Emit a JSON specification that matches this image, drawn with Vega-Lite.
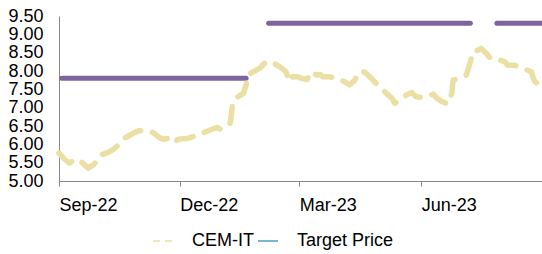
{
  "$schema": "https://vega.github.io/schema/vega-lite/v6.json",
  "width": 483,
  "height": 165,
  "autosize": {"type": "none"},
  "padding": {"left": 59, "top": 16, "right": 0, "bottom": 73},
  "background": "white",
  "config": {
    "view": {"stroke": null},
    "font": "Liberation Sans",
    "axis": {"labelFont": "Liberation Sans", "labelFontSize": 18, "labelColor": "#000000", "domainColor": "#888888", "tickColor": "#888888", "grid": false, "title": null, "labelOverlap": false, "labelFlush": false}
  },
  "datasets": {
    "price": [
      {"date": "2022-09-01", "value": 5.76, "series": "CEM-IT"},
      {"date": "2022-09-03", "value": 5.68, "series": "CEM-IT"},
      {"date": "2022-09-06", "value": 5.57, "series": "CEM-IT"},
      {"date": "2022-09-09", "value": 5.49, "series": "CEM-IT"},
      {"date": "2022-09-12", "value": 5.57, "series": "CEM-IT"},
      {"date": "2022-09-15", "value": 5.59, "series": "CEM-IT"},
      {"date": "2022-09-17", "value": 5.55, "series": "CEM-IT"},
      {"date": "2022-09-19", "value": 5.48, "series": "CEM-IT"},
      {"date": "2022-09-23", "value": 5.35, "series": "CEM-IT"},
      {"date": "2022-09-25", "value": 5.40, "series": "CEM-IT"},
      {"date": "2022-09-27", "value": 5.44, "series": "CEM-IT"},
      {"date": "2022-09-29", "value": 5.53, "series": "CEM-IT"},
      {"date": "2022-10-02", "value": 5.71, "series": "CEM-IT"},
      {"date": "2022-10-06", "value": 5.75, "series": "CEM-IT"},
      {"date": "2022-10-09", "value": 5.80, "series": "CEM-IT"},
      {"date": "2022-10-13", "value": 5.89, "series": "CEM-IT"},
      {"date": "2022-10-17", "value": 6.03, "series": "CEM-IT"},
      {"date": "2022-10-19", "value": 6.14, "series": "CEM-IT"},
      {"date": "2022-10-23", "value": 6.22, "series": "CEM-IT"},
      {"date": "2022-10-27", "value": 6.30, "series": "CEM-IT"},
      {"date": "2022-10-31", "value": 6.37, "series": "CEM-IT"},
      {"date": "2022-11-03", "value": 6.37, "series": "CEM-IT"},
      {"date": "2022-11-07", "value": 6.37, "series": "CEM-IT"},
      {"date": "2022-11-11", "value": 6.32, "series": "CEM-IT"},
      {"date": "2022-11-15", "value": 6.20, "series": "CEM-IT"},
      {"date": "2022-11-18", "value": 6.14, "series": "CEM-IT"},
      {"date": "2022-11-22", "value": 6.16, "series": "CEM-IT"},
      {"date": "2022-11-26", "value": 6.04, "series": "CEM-IT"},
      {"date": "2022-11-30", "value": 6.14, "series": "CEM-IT"},
      {"date": "2022-12-03", "value": 6.15, "series": "CEM-IT"},
      {"date": "2022-12-07", "value": 6.16, "series": "CEM-IT"},
      {"date": "2022-12-12", "value": 6.22, "series": "CEM-IT"},
      {"date": "2022-12-19", "value": 6.32, "series": "CEM-IT"},
      {"date": "2022-12-24", "value": 6.39, "series": "CEM-IT"},
      {"date": "2022-12-29", "value": 6.46, "series": "CEM-IT"},
      {"date": "2023-01-01", "value": 6.41, "series": "CEM-IT"},
      {"date": "2023-01-05", "value": 6.48, "series": "CEM-IT"},
      {"date": "2023-01-08", "value": 6.57, "series": "CEM-IT"},
      {"date": "2023-01-09", "value": 6.85, "series": "CEM-IT"},
      {"date": "2023-01-10", "value": 7.16, "series": "CEM-IT"},
      {"date": "2023-01-14", "value": 7.30, "series": "CEM-IT"},
      {"date": "2023-01-18", "value": 7.39, "series": "CEM-IT"},
      {"date": "2023-01-20", "value": 7.62, "series": "CEM-IT"},
      {"date": "2023-01-21", "value": 7.89, "series": "CEM-IT"},
      {"date": "2023-01-30", "value": 8.07, "series": "CEM-IT"},
      {"date": "2023-02-03", "value": 8.21, "series": "CEM-IT"},
      {"date": "2023-02-05", "value": 8.20, "series": "CEM-IT"},
      {"date": "2023-02-08", "value": 8.25, "series": "CEM-IT"},
      {"date": "2023-02-11", "value": 8.19, "series": "CEM-IT"},
      {"date": "2023-02-15", "value": 8.10, "series": "CEM-IT"},
      {"date": "2023-02-19", "value": 7.98, "series": "CEM-IT"},
      {"date": "2023-02-22", "value": 7.71, "series": "CEM-IT"},
      {"date": "2023-02-24", "value": 7.84, "series": "CEM-IT"},
      {"date": "2023-02-28", "value": 7.84, "series": "CEM-IT"},
      {"date": "2023-03-03", "value": 7.80, "series": "CEM-IT"},
      {"date": "2023-03-07", "value": 7.77, "series": "CEM-IT"},
      {"date": "2023-03-10", "value": 7.98, "series": "CEM-IT"},
      {"date": "2023-03-14", "value": 7.89, "series": "CEM-IT"},
      {"date": "2023-03-17", "value": 7.90, "series": "CEM-IT"},
      {"date": "2023-03-19", "value": 7.84, "series": "CEM-IT"},
      {"date": "2023-03-24", "value": 7.84, "series": "CEM-IT"},
      {"date": "2023-03-29", "value": 7.80, "series": "CEM-IT"},
      {"date": "2023-04-04", "value": 7.71, "series": "CEM-IT"},
      {"date": "2023-04-08", "value": 7.62, "series": "CEM-IT"},
      {"date": "2023-04-12", "value": 7.75, "series": "CEM-IT"},
      {"date": "2023-04-14", "value": 7.94, "series": "CEM-IT"},
      {"date": "2023-04-17", "value": 7.94, "series": "CEM-IT"},
      {"date": "2023-04-19", "value": 7.98, "series": "CEM-IT"},
      {"date": "2023-04-23", "value": 7.85, "series": "CEM-IT"},
      {"date": "2023-04-28", "value": 7.66, "series": "CEM-IT"},
      {"date": "2023-05-03", "value": 7.48, "series": "CEM-IT"},
      {"date": "2023-05-07", "value": 7.35, "series": "CEM-IT"},
      {"date": "2023-05-10", "value": 7.25, "series": "CEM-IT"},
      {"date": "2023-05-12", "value": 7.12, "series": "CEM-IT"},
      {"date": "2023-05-16", "value": 7.20, "series": "CEM-IT"},
      {"date": "2023-05-21", "value": 7.35, "series": "CEM-IT"},
      {"date": "2023-05-25", "value": 7.41, "series": "CEM-IT"},
      {"date": "2023-05-28", "value": 7.30, "series": "CEM-IT"},
      {"date": "2023-06-02", "value": 7.28, "series": "CEM-IT"},
      {"date": "2023-06-07", "value": 7.32, "series": "CEM-IT"},
      {"date": "2023-06-10", "value": 7.37, "series": "CEM-IT"},
      {"date": "2023-06-13", "value": 7.25, "series": "CEM-IT"},
      {"date": "2023-06-17", "value": 7.16, "series": "CEM-IT"},
      {"date": "2023-06-21", "value": 7.10, "series": "CEM-IT"},
      {"date": "2023-06-24", "value": 7.39, "series": "CEM-IT"},
      {"date": "2023-06-25", "value": 7.75, "series": "CEM-IT"},
      {"date": "2023-06-30", "value": 7.80, "series": "CEM-IT"},
      {"date": "2023-07-05", "value": 7.89, "series": "CEM-IT"},
      {"date": "2023-07-08", "value": 8.25, "series": "CEM-IT"},
      {"date": "2023-07-10", "value": 8.53, "series": "CEM-IT"},
      {"date": "2023-07-14", "value": 8.57, "series": "CEM-IT"},
      {"date": "2023-07-16", "value": 8.62, "series": "CEM-IT"},
      {"date": "2023-07-20", "value": 8.48, "series": "CEM-IT"},
      {"date": "2023-07-23", "value": 8.35, "series": "CEM-IT"},
      {"date": "2023-07-26", "value": 8.30, "series": "CEM-IT"},
      {"date": "2023-07-30", "value": 8.30, "series": "CEM-IT"},
      {"date": "2023-08-03", "value": 8.25, "series": "CEM-IT"},
      {"date": "2023-08-05", "value": 8.16, "series": "CEM-IT"},
      {"date": "2023-08-10", "value": 8.16, "series": "CEM-IT"},
      {"date": "2023-08-16", "value": 8.08, "series": "CEM-IT"},
      {"date": "2023-08-23", "value": 7.98, "series": "CEM-IT"},
      {"date": "2023-08-25", "value": 7.75, "series": "CEM-IT"},
      {"date": "2023-08-28", "value": 7.62, "series": "CEM-IT"},
      {"date": "2023-08-30", "value": 7.66, "series": "CEM-IT"}
    ],
    "target": [
      {"date": "2022-09-03", "value": 7.8, "series": "Target Price", "seg": "a"},
      {"date": "2023-01-20", "value": 7.8, "series": "Target Price", "seg": "a"},
      {"date": "2023-02-06", "value": 9.3, "series": "Target Price", "seg": "b"},
      {"date": "2023-07-08", "value": 9.3, "series": "Target Price", "seg": "b"},
      {"date": "2023-07-28", "value": 9.3, "series": "Target Price", "seg": "c"},
      {"date": "2023-08-31", "value": 9.3, "series": "Target Price", "seg": "c"}
    ]
  },
  "encoding": {
    "x": {
      "field": "date",
      "type": "temporal",
      "scale": {"type": "utc", "domain": [{"year": 2022, "month": 9, "date": 1, "utc": true}, {"year": 2023, "month": 8, "date": 31, "utc": true}]},
      "axis": {
        "values": [{"year": 2022, "month": 9, "date": 1, "utc": true}, {"year": 2022, "month": 12, "date": 1, "utc": true}, {"year": 2023, "month": 3, "date": 1, "utc": true}, {"year": 2023, "month": 6, "date": 1, "utc": true}],
        "format": "%b-%y",
        "labelAlign": "left",
        "tickSize": 5,
        "labelPadding": 10
      }
    },
    "y": {
      "field": "value",
      "type": "quantitative",
      "scale": {"domain": [5, 9.5], "nice": false, "zero": false},
      "axis": {"values": [5, 5.5, 6, 6.5, 7, 7.5, 8, 8.5, 9, 9.5], "format": ".2f", "ticks": false, "labelPadding": 16}
    }
  },
  "layer": [
    {
      "data": {"name": "target"},
      "mark": {"type": "line", "strokeWidth": 5, "strokeCap": "round", "color": "#7D649E"},
      "encoding": {"detail": {"field": "seg", "type": "nominal"}}
    },
    {
      "data": {"name": "price"},
      "mark": {"type": "line", "strokeWidth": 5.5, "strokeCap": "round", "strokeJoin": "round", "strokeDash": [17, 12]},
      "encoding": {
        "color": {
          "field": "series",
          "type": "nominal",
          "scale": {"domain": ["CEM-IT", "Target Price"], "range": ["#EAE0A4", "#4E9FC6"]},
          "legend": {
            "title": null,
            "orient": "none",
            "direction": "horizontal",
            "legendX": 93,
            "legendY": 214,
            "padding": 0,
            "symbolType": "stroke",
            "symbolSize": 400,
            "symbolStrokeWidth": 1.5,
            "labelFontSize": 18,
            "labelFont": "Liberation Sans",
            "labelColor": "#000000",
            "labelOffset": 18,
            "columnPadding": 1,
            "encode": {
              "symbols": {
                "update": {
                  "strokeDash": {"signal": "datum.value === 'CEM-IT' ? [7, 5] : [1, 0]"}
                }
              }
            }
          }
        }
      }
    }
  ]
}
